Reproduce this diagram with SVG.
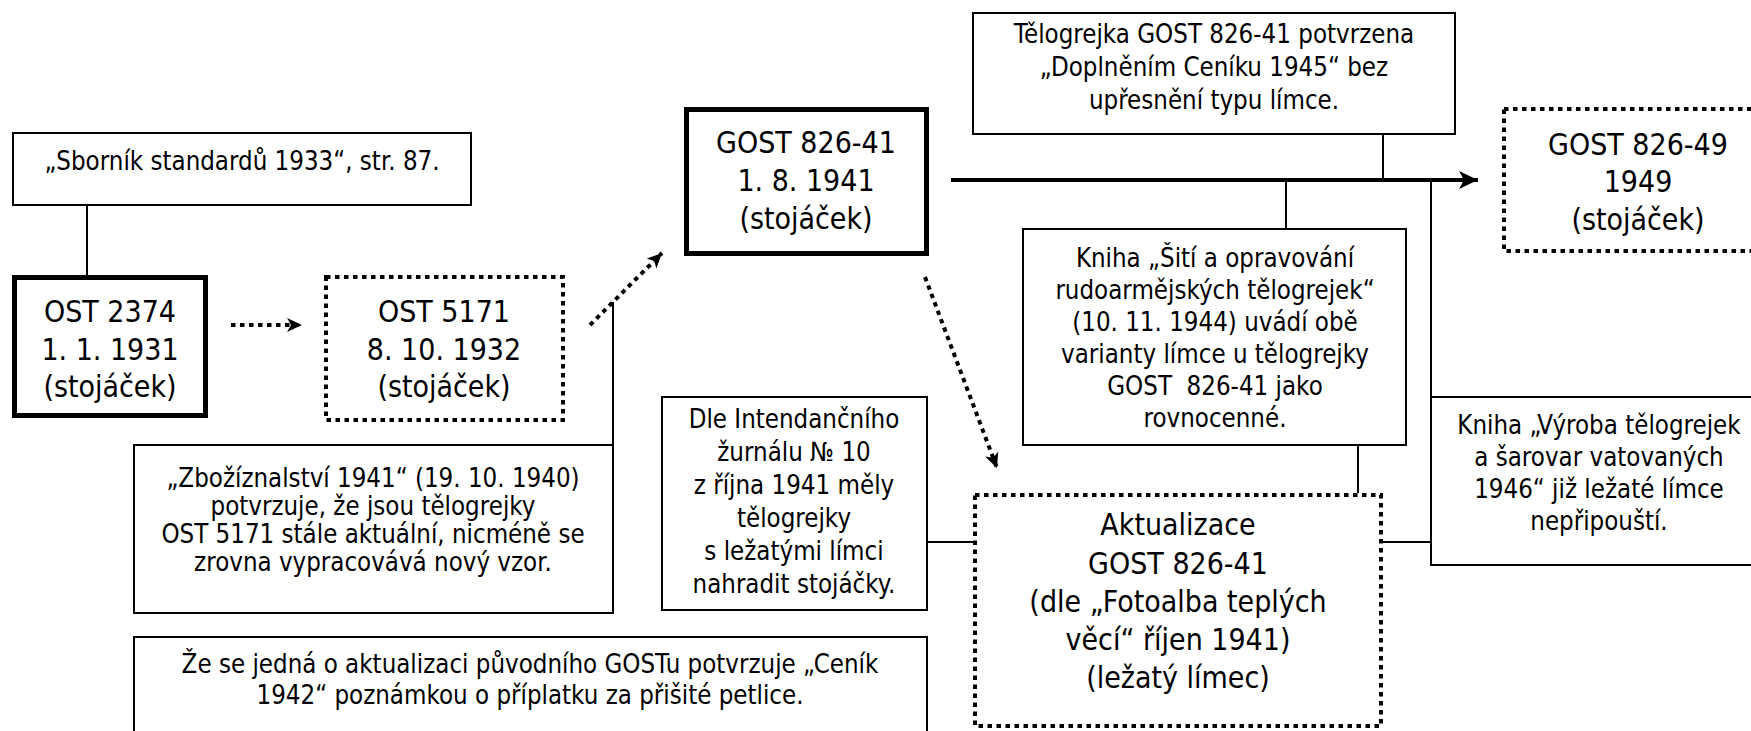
<svg xmlns="http://www.w3.org/2000/svg" width="1751" height="731" viewBox="0 0 1751 731">
<style>
.box{fill:#fff;stroke:#000;stroke-width:2}
.thick{fill:#fff;stroke:#000;stroke-width:5}
.dot{fill:#fff;stroke:#000;stroke-width:4;stroke-dasharray:4.5 4.5}
.t{font-family:"DejaVu Sans","Liberation Sans",sans-serif;font-size:26.5px;text-anchor:middle;fill:#000}
.T{font-size:31px}
.ln{stroke:#000;stroke-width:2;fill:none}
.dl{stroke:#000;stroke-width:4;stroke-dasharray:4.5 4.5;fill:none}
.tk{stroke:#000;stroke-width:4;fill:none}
</style>
<defs>
<marker id="ah" markerUnits="userSpaceOnUse" markerWidth="16" markerHeight="14" refX="15" refY="7" orient="auto"><path d="M0,0 L15,7 L0,14 L4,7 z" fill="#000"/></marker>
<marker id="ahb" markerUnits="userSpaceOnUse" markerWidth="20" markerHeight="18" refX="19" refY="9" orient="auto"><path d="M0,0 L19,9 L0,18 L5,9 z" fill="#000"/></marker>
</defs>
<rect width="1751" height="731" fill="#fff"/>
<g id="connectors">
<line class="ln" x1="87" y1="205" x2="87" y2="275"/>
<line class="dl" x1="231" y1="325" x2="302" y2="325" marker-end="url(#ah)"/>
<line class="dl" x1="590" y1="325" x2="662" y2="253" marker-end="url(#ah)"/>
<line class="ln" x1="613" y1="302" x2="613" y2="445"/>
<line class="tk" x1="951" y1="180" x2="1478" y2="180" marker-end="url(#ahb)"/>
<line class="ln" x1="1383" y1="134" x2="1383" y2="180"/>
<line class="ln" x1="1286" y1="180" x2="1286" y2="229"/>
<line class="ln" x1="1431" y1="180" x2="1431" y2="397"/>
<line class="ln" x1="1358" y1="445" x2="1358" y2="493"/>
<line class="ln" x1="1383" y1="542" x2="1431" y2="542"/>
<line class="ln" x1="927" y1="542" x2="973" y2="542"/>
<line class="dl" x1="925" y1="277" x2="997" y2="468" marker-end="url(#ah)"/>
</g>
<g id="n-sbornik">
<rect class="box" x="13" y="133" width="458" height="72"/>
<text class="t" transform="matrix(0.87 0 0 1 31.46 0)" x="242" y="170">„Sborník standardů 1933“, str. 87.</text>
</g>
<g id="n-ost2374">
<rect class="thick" x="14.5" y="277.5" width="191" height="138"/>
<text class="t T" transform="matrix(0.87 0 0 1 14.3 0)"><tspan x="110" y="322">OST 2374</tspan><tspan x="110" y="360">1. 1. 1931</tspan><tspan x="110" y="397">(stojáček)</tspan></text>
</g>
<g id="n-ost5171">
<rect class="dot" x="326" y="277" width="237" height="143"/>
<text class="t T" transform="matrix(0.87 0 0 1 57.72 0)"><tspan x="444" y="322">OST 5171</tspan><tspan x="444" y="360">8. 10. 1932</tspan><tspan x="444" y="397">(stojáček)</tspan></text>
</g>
<g id="n-gost41">
<rect class="thick" x="686.5" y="109.5" width="240" height="144"/>
<text class="t T" transform="matrix(0.87 0 0 1 104.78 0)"><tspan x="806" y="153">GOST 826-41</tspan><tspan x="806" y="191">1. 8. 1941</tspan><tspan x="806" y="229">(stojáček)</tspan></text>
</g>
<g id="n-telogrejka45">
<rect class="box" x="973" y="13" width="482" height="121"/>
<text class="t" transform="matrix(0.87 0 0 1 157.82 0)"><tspan x="1214" y="43">Tělogrejka GOST 826-41 potvrzena</tspan><tspan x="1214" y="76">„Doplněním Ceníku 1945“ bez</tspan><tspan x="1214" y="109">upřesnění typu límce.</tspan></text>
</g>
<g id="n-gost49">
<rect class="dot" x="1504" y="109" width="270" height="142"/>
<text class="t T" transform="matrix(0.87 0 0 1 212.94 0)"><tspan x="1638" y="155">GOST 826-49</tspan><tspan x="1638" y="192">1949</tspan><tspan x="1638" y="230">(stojáček)</tspan></text>
</g>
<g id="n-siti">
<rect class="box" x="1023" y="229" width="383" height="216"/>
<text class="t" style="white-space:pre" transform="matrix(0.87 0 0 1 157.95 0)"><tspan x="1215" y="267">Kniha „Šití a opravování</tspan><tspan x="1215" y="299">rudoarmějských tělogrejek“</tspan><tspan x="1215" y="331">(10. 11. 1944) uvádí obě</tspan><tspan x="1215" y="363">varianty límce u tělogrejky</tspan><tspan x="1215" y="395">GOST  826-41 jako</tspan><tspan x="1215" y="427">rovnocenné.</tspan></text>
</g>
<g id="n-vyroba">
<rect class="box" x="1431" y="397" width="340" height="168"/>
<text class="t" transform="matrix(0.87 0 0 1 207.87 0)"><tspan x="1599" y="434">Kniha „Výroba tělogrejek</tspan><tspan x="1599" y="466">a šarovar vatovaných</tspan><tspan x="1599" y="498">1946“ již ležaté límce</tspan><tspan x="1599" y="530">nepřipouští.</tspan></text>
</g>
<g id="n-zboz">
<rect class="box" x="134" y="445" width="479" height="168"/>
<text class="t" transform="matrix(0.87 0 0 1 48.49 0)"><tspan x="373" y="487">„Zbožíznalství 1941“ (19. 10. 1940)</tspan><tspan x="373" y="515">potvrzuje, že jsou tělogrejky</tspan><tspan x="373" y="543">OST 5171 stále aktuální, nicméně se</tspan><tspan x="373" y="571">zrovna vypracovává nový vzor.</tspan></text>
</g>
<g id="n-intend">
<rect class="box" x="662" y="397" width="265" height="213"/>
<text class="t" transform="matrix(0.87 0 0 1 103.22 0)"><tspan x="794" y="428">Dle Intendančního</tspan><tspan x="794" y="461">žurnálu № 10</tspan><tspan x="794" y="494">z října 1941 měly</tspan><tspan x="794" y="527">tělogrejky</tspan><tspan x="794" y="560">s ležatými límci</tspan><tspan x="794" y="593">nahradit stojáčky.</tspan></text>
</g>
<g id="n-aktualizace">
<rect class="dot" x="975" y="495" width="406" height="231"/>
<text class="t T" transform="matrix(0.87 0 0 1 153.14 0)"><tspan x="1178" y="535">Aktualizace</tspan><tspan x="1178" y="574">GOST 826-41</tspan><tspan x="1178" y="612">(dle „Fotoalba teplých</tspan><tspan x="1178" y="650">věcí“ říjen 1941)</tspan><tspan x="1178" y="688">(ležatý límec)</tspan></text>
</g>
<g id="n-cenik42">
<rect class="box" x="134" y="637" width="793" height="120"/>
<text class="t" transform="matrix(0.87 0 0 1 68.9 0)"><tspan x="530" y="673">Že se jedná o aktualizaci původního GOSTu potvrzuje „Ceník</tspan><tspan x="530" y="704">1942“ poznámkou o příplatku za přišité petlice.</tspan></text>
</g>
</svg>
